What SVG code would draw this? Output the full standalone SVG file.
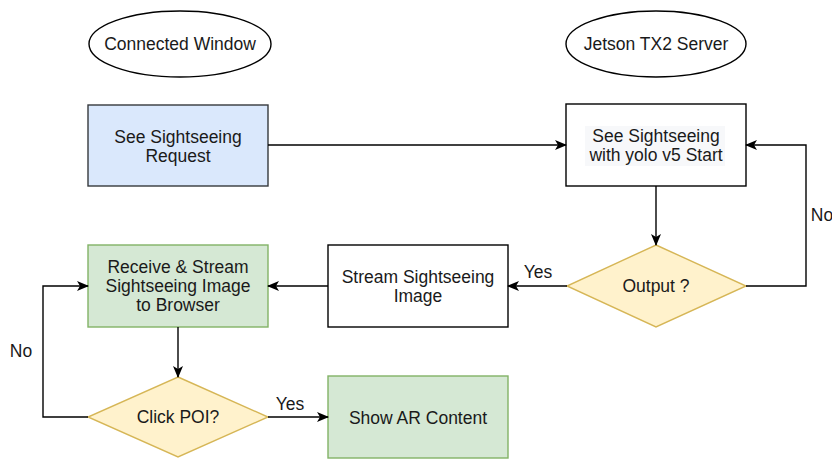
<svg xmlns="http://www.w3.org/2000/svg" width="832" height="459" viewBox="0 0 832 459">
<style>
text{font-family:"Liberation Sans",Arial,sans-serif;font-size:17.5px;fill:#1a1a1a;text-anchor:middle;dominant-baseline:central}
.e{fill:#fff;stroke:#000;stroke-width:1.4}
.w{fill:#fff;stroke:#000;stroke-width:1.4}
.b{fill:#dae8fc;stroke:#36393d;stroke-width:1.4}
.g{fill:#d5e8d4;stroke:#82b366;stroke-width:1.4}
.y{fill:#fff2cc;stroke:#d6b656;stroke-width:1.4}
.c{fill:none;stroke:#000;stroke-width:1.4;marker-end:url(#a)}
</style>
<defs>
<marker id="a" viewBox="0 0 12 10" refX="11" refY="5" markerWidth="12" markerHeight="10" markerUnits="userSpaceOnUse" orient="auto">
<path d="M0,0 L12,5 L0,10 L3,5 Z" fill="#000"/>
</marker>
</defs>
<g id="connected-window"><ellipse class="e" cx="180" cy="44" rx="91" ry="33"/><text x="180" y="44">Connected Window</text></g>
<g id="jetson-server"><ellipse class="e" cx="656" cy="44" rx="90" ry="33"/><text x="656" y="44">Jetson TX2 Server</text></g>
<g id="request"><rect class="b" x="88" y="105" width="180" height="81"/><text x="178" y="137">See Sightseeing</text><text x="178" y="156">Request</text></g>
<g id="yolo-start"><rect class="w" x="566" y="104" width="180" height="82"/><rect x="585" y="126" width="140" height="40" fill="#f7f8fa"/><text x="656" y="136">See Sightseeing</text><text x="656" y="155">with yolo v5 Start</text></g>
<g id="output"><polygon class="y" points="656,245 746,286 656,327 567,286"/><text x="656" y="286">Output ?</text></g>
<g id="stream"><rect class="w" x="328" y="245" width="180" height="82"/><text x="418" y="277">Stream Sightseeing</text><text x="418" y="296">Image</text></g>
<g id="receive"><rect class="g" x="88" y="245" width="180" height="82"/><text x="178" y="267">Receive &amp; Stream</text><text x="178" y="286">Sightseeing Image</text><text x="178" y="305">to Browser</text></g>
<g id="click-poi"><polygon class="y" points="178,377 268,417 178,457 88,417"/><text x="178" y="417">Click POI?</text></g>
<g id="show-ar"><rect class="g" x="328" y="376" width="180" height="82"/><text x="418" y="418">Show AR Content</text></g>
<g id="connectors">
<path class="c" d="M268,145 H566"/>
<path class="c" d="M656,186 V245"/>
<path class="c" d="M746,286 H806 V145 H746"/>
<text x="822" y="215">No</text>
<path class="c" d="M567,286 H508"/>
<text x="538" y="272">Yes</text>
<path class="c" d="M328,286 H268"/>
<path class="c" d="M178,327 V377"/>
<path class="c" d="M88,417 H43 V286 H88"/>
<text x="21" y="351">No</text>
<path class="c" d="M268,417 H328"/>
<text x="290" y="404">Yes</text>
</g>
</svg>
